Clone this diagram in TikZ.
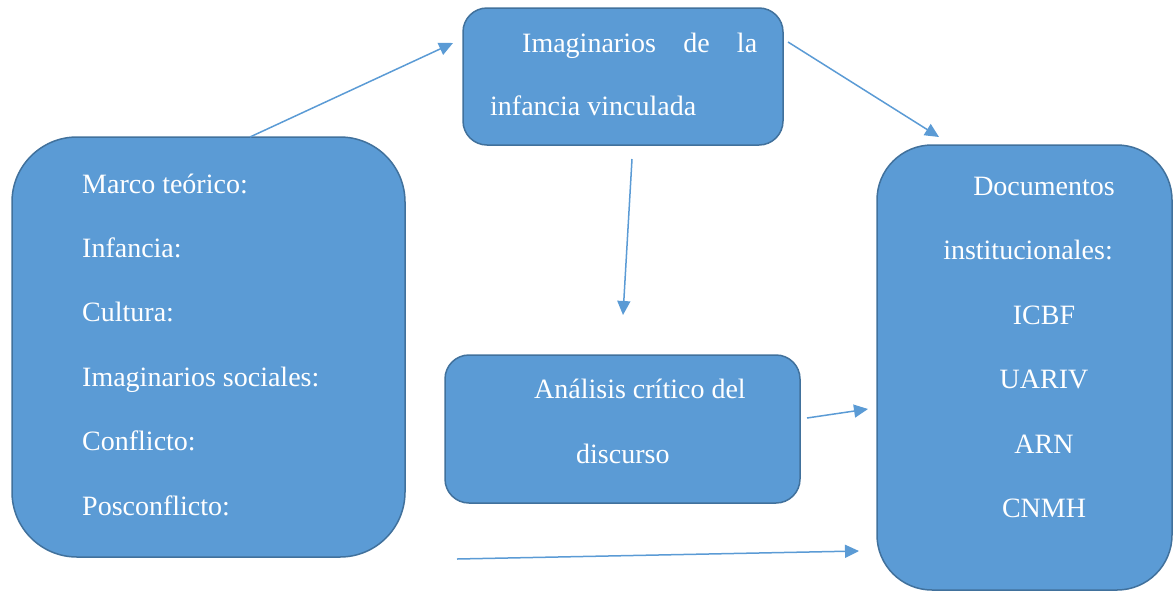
\documentclass[tikz,border=0pt]{standalone}
\usepackage{fontspec}
\setmainfont{Liberation Serif}
\usetikzlibrary{arrows.meta}
\definecolor{cajaazul}{HTML}{5B9BD5}
\definecolor{bordeazul}{HTML}{41719C}
\tikzset{
  caja/.style={draw=bordeazul, fill=cajaazul, line width=1.5pt, inner sep=0pt},
  texto/.style={anchor=base west, text=white, inner sep=0pt, font=\fontsize{28}{32}\selectfont},
  textoc/.style={texto, anchor=base},
  flecha/.style={draw=cajaazul, line width=1.5pt, -{Triangle[length=14pt,width=13pt,fill=cajaazul]}}
}
\begin{document}
\begin{tikzpicture}[x=1pt,y=-1pt]
  \useasboundingbox (0,0) rectangle (1174,592);
  % cajas
  \node[caja, rounded corners=65pt, minimum width=393pt, minimum height=420pt] (marco) at (208.5,347) {};
  \node[caja, rounded corners=24pt, minimum width=320pt, minimum height=137pt] (imag) at (623,76.5) {};
  \node[caja, rounded corners=24pt, minimum width=355pt, minimum height=148pt] (acd) at (622.5,429) {};
  \node[caja, rounded corners=55pt, minimum width=295pt, minimum height=445pt] (docs) at (1024.5,367.5) {};
  % textos
  \foreach \t [count=\i from 0] in {Marco teórico:, Infancia:, Cultura:, Imaginarios sociales:, Conflicto:, Posconflicto:}
    {
      \node[texto] (m\i) at (82, 193+64.4*\i) {\t};
    }
  \node[texto] (imag1) at (522,52) {\makebox[235pt][s]{Imaginarios de la}};
  \node[texto] (imag2) at (490,115) {infancia vinculada};
  \node[texto] (acd1) at (534,398) {Análisis crítico del};
  \node[texto] (acd2) at (576,463) {discurso};
  \node[textoc] (d0) at (1044,195.7) {Documentos};
  \node[textoc] (d1) at (1028,259) {institucionales:};
  \foreach \t [count=\i from 2] in {ICBF, UARIV, ARN, CNMH}
    {
      \node[textoc] (d\i) at (1044, 195.7+64.4*\i) {\t};
    }
  % flechas
  \coordinate (a1) at (250,137);  \coordinate (b1) at (453,43);
  \coordinate (a2) at (788,42);   \coordinate (b2) at (939,137);
  \coordinate (a3) at (632,159);  \coordinate (b3) at (623,315);
  \coordinate (a4) at (807,418);  \coordinate (b4) at (868,409);
  \coordinate (a5) at (457,559);  \coordinate (b5) at (859,551);
  \foreach \i in {1,...,5}
    {
      \draw[flecha] (a\i) -- (b\i);
    }
\end{tikzpicture}
\end{document}
